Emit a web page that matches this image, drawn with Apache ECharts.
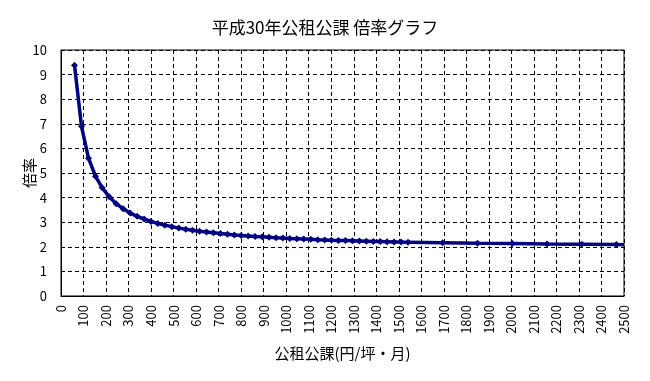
<!DOCTYPE html>
<html>
<head>
<meta charset="utf-8">
<script src="https://cdn.jsdelivr.net/npm/echarts@6/dist/echarts.min.js"></script>
<style>
html,body{margin:0;padding:0;background:#fff;}
#chart{width:650px;height:381px;}
</style>
</head>
<body>
<div id="chart"></div>
<script>
var titleText = '平成30年公租公課 倍率グラフ';
var xAxisName = '公租公課(円/坪・月)';
var yAxisName = '倍率';

var xValues = [60, 91, 122, 153, 183, 214, 245, 276, 307, 338, 369, 399, 430, 461, 492, 523, 554, 584, 615, 646,
  677, 708, 739, 770, 800, 831, 862, 893, 924, 955, 985, 1016, 1047, 1078, 1109, 1140, 1171, 1201, 1232, 1263,
  1294, 1325, 1356, 1387, 1417, 1448, 1479, 1510, 1541, 1695, 1850, 2004, 2158, 2312, 2466, 2500];
var ratioValues = [9.38, 6.90, 5.60, 4.87, 4.40, 4.03, 3.75, 3.55, 3.37, 3.24, 3.13, 3.03, 2.95, 2.88, 2.82, 2.76, 2.71, 2.67, 2.63, 2.60,
  2.57, 2.54, 2.51, 2.48, 2.46, 2.44, 2.42, 2.41, 2.39, 2.37, 2.36, 2.34, 2.33, 2.32, 2.31, 2.29, 2.28, 2.27, 2.26, 2.26,
  2.25, 2.24, 2.23, 2.22, 2.22, 2.21, 2.20, 2.20, 2.18, 2.16, 2.14, 2.13, 2.11, 2.10, 2.09, 2.08];

var data = xValues.map(function (x, i) {
  var item = { value: [x, ratioValues[i]] };
  if (i === xValues.length - 1) { item.symbolSize = 0; }
  return item;
});

var font = '"Noto Sans CJK JP", "Noto Sans", sans-serif';
var chart = echarts.init(document.getElementById('chart'), null, { renderer: 'canvas' });
chart.setOption({
  backgroundColor: '#ffffff',
  animation: false,
  textStyle: { fontFamily: font, color: '#000' },
  title: {
    text: titleText,
    left: 'center',
    top: 14,
    textStyle: { fontFamily: font, fontSize: 17, fontWeight: 'normal', color: '#000' }
  },
  grid: { left: 61, top: 50, width: 563, height: 246, show: true, borderColor: '#000', borderWidth: 1, backgroundColor: 'transparent' },
  xAxis: {
    type: 'value', min: 0, max: 2500, interval: 100,
    name: xAxisName, nameLocation: 'middle', nameGap: 50, nameMoveOverlap: false,
    nameTextStyle: { fontFamily: font, fontSize: 15, color: '#000' },
    axisLine: { show: true, lineStyle: { color: '#000', width: 1 } },
    axisTick: { show: false },
    axisLabel: { rotate: 90, fontSize: 13, color: '#000', margin: 9, fontFamily: font,
      formatter: function (v) { return String(v); } },
    splitLine: { show: true, lineStyle: { color: '#000', type: [4, 3], width: 1 } }
  },
  yAxis: {
    type: 'value', min: 0, max: 10, interval: 1,
    name: yAxisName, nameLocation: 'middle', nameGap: 24, nameRotate: 90, nameMoveOverlap: false,
    nameTextStyle: { fontFamily: font, fontSize: 15, color: '#000' },
    axisLine: { show: true, lineStyle: { color: '#000', width: 1 } },
    axisTick: { show: false },
    axisLabel: { fontSize: 13, color: '#000', margin: 14, fontFamily: font },
    splitLine: { show: true, lineStyle: { color: '#000', type: [4, 3], width: 1 } }
  },
  series: [{
    type: 'line',
    data: data,
    symbol: 'diamond',
    symbolSize: 7,
    showAllSymbol: true,
    lineStyle: { color: '#000080', width: 3.5 },
    itemStyle: { color: '#000080' }
  }]
});
</script>
</body>
</html>
